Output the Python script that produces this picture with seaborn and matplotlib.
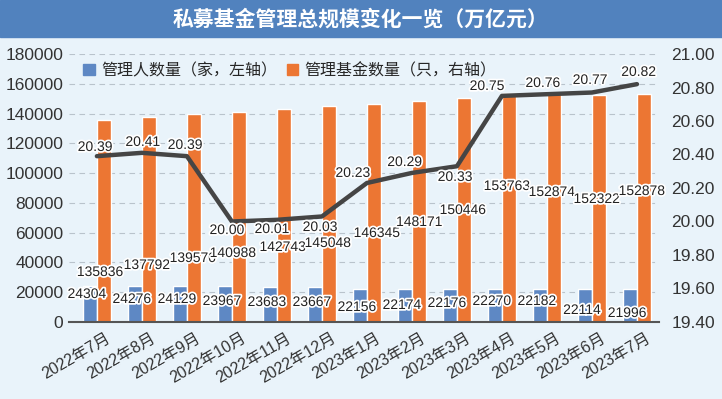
import matplotlib
matplotlib.use("Agg")
import matplotlib.pyplot as plt
import matplotlib.patheffects as pe
import matplotlib.transforms as mtransforms
from matplotlib.patches import Patch, Rectangle
import pandas as pd
import seaborn as sns

# data
months = ["2022年7月", "2022年8月", "2022年9月", "2022年10月", "2022年11月", "2022年12月",
          "2023年1月", "2023年2月", "2023年3月", "2023年4月", "2023年5月", "2023年6月", "2023年7月"]
managers = [24304, 24276, 24129, 23967, 23683, 23667, 22156, 22174, 22176, 22270, 22182, 22114, 21996]
funds = [135836, 137792, 139570, 140988, 142743, 145048, 146345, 148171, 150446, 153763, 152874, 152322, 152878]
scale = [20.39, 20.41, 20.39, 20.00, 20.01, 20.03, 20.23, 20.29, 20.33, 20.75, 20.76, 20.77, 20.82]

# label placement (text positions only)
mgr_lab_y = [18800, 15450, 15450, 14100, 13430, 13430, 10070, 11420, 12760, 14100, 14100, 8060, 6040]
fund_lab_dx = [0.07, 0.11, 0.13, 0.02, 0.13, 0.13, 0.22, 0.16, 0.13, 0.11, 0.11, 0.11, 0.11]
fund_lab_y = [33580, 38280, 42980, 46340, 50370, 53060, 59770, 67160, 75220, 91340, 87310, 82610, 87980]
line_lab_x = [-0.04, 1.02, 1.96, 2.89, 3.89, 4.96, 5.69, 6.84, 7.96, 8.67, 9.91, 10.96, 12.04]
line_lab_y = [20.445, 20.475, 20.457, 19.949, 19.955, 19.967, 20.290, 20.355, 20.266,
              20.809, 20.827, 20.845, 20.893]

blue = "#5e88c4"
orange = "#ec7633"
bg = "#e9f3fa"

sns.set_style("white")
plt.rcParams["font.family"] = ["Liberation Sans", "Noto Sans CJK SC", "DejaVu Sans"]

df = pd.DataFrame({
    "month": months * 2,
    "value": managers + funds,
    "series": ["管理人数量（家，左轴）"] * 13 + ["管理基金数量（只，右轴）"] * 13,
})

fig = plt.figure(figsize=(7.22, 3.99), dpi=100, facecolor=bg)
ax = fig.add_axes([69 / 722, 1 - 322 / 399, 590 / 722, 268 / 399])
ax.set_facecolor(bg)

sns.barplot(data=df, x="month", y="value", hue="series", order=months,
            palette=[blue, orange], width=0.62, gap=0, saturation=1,
            legend=False, ax=ax)

ax.set_ylim(0, 180000)
ax.set_yticks(range(0, 180001, 20000))
ax.set_xlim(-0.62, 12.49)
ax.set_xlabel("")
ax.set_ylabel("")
ax.grid(axis="y", color="#b9c3cc", linestyle=(0, (5, 4)), linewidth=0.8)
ax.set_axisbelow(True)
for s in ["top", "right", "left"]:
    ax.spines[s].set_visible(False)
ax.spines["bottom"].set_color("#555555")
ax.spines["bottom"].set_linewidth(1.5)
ax.tick_params(axis="y", length=0, pad=4, labelsize=12.5, labelcolor="#333333")
ax.tick_params(axis="x", length=0, pad=6)
ax.set_xticks(range(13))
ax.set_xticklabels(months, rotation=30, ha="right", va="top", rotation_mode="anchor",
                   fontsize=11.5, color="#333333")
shift = mtransforms.ScaledTranslation(9 / 100, 0, fig.dpi_scale_trans)
for lab in ax.get_xticklabels():
    lab.set_transform(lab.get_transform() + shift)

ax2 = ax.twinx()
sns.lineplot(x=list(range(13)), y=scale, ax=ax2, color="#454545", linewidth=3.2)
ax2.set_ylim(19.4, 21.0)
ax2.set_yticks([19.4 + 0.2 * i for i in range(9)])
ax2.set_yticklabels([f"{19.4 + 0.2 * i:.2f}" for i in range(9)])
ax2.set_xlim(-0.62, 12.49)
for s in ["top", "right", "left", "bottom"]:
    ax2.spines[s].set_visible(False)
ax2.tick_params(axis="y", length=0, pad=9, labelsize=12.5, labelcolor="#333333")

stroke = [pe.withStroke(linewidth=2.5, foreground="white")]
for i in range(13):
    ax.text(i - 0.22, mgr_lab_y[i], str(managers[i]), ha="center", va="center",
            fontsize=10, color="#222222", path_effects=stroke, zorder=5)
    ax.text(i + fund_lab_dx[i], fund_lab_y[i], str(funds[i]), ha="center", va="center",
            fontsize=10, color="#222222", path_effects=stroke, zorder=5)
    ax2.text(line_lab_x[i], line_lab_y[i], f"{scale[i]:.2f}", ha="center", va="center",
             fontsize=10, color="#222222", path_effects=stroke, zorder=5)

handles = [Patch(color=blue), Patch(color=orange)]
ax.legend(handles, ["管理人数量（家，左轴）", "管理基金数量（只，右轴）"], ncol=2,
          loc="upper left", bbox_to_anchor=(0.0, 1.02), frameon=False,
          handlelength=0.7, handleheight=0.7, handletextpad=0.4, columnspacing=0.6,
          prop={"size": 11.5})

# title band
fig.patches.append(Rectangle((0, 1 - 37 / 399), 1, 37 / 399, transform=fig.transFigure,
                             color="#5182be", zorder=0))
fig.text(0.5, 1 - 19 / 399, "私募基金管理总规模变化一览（万亿元）", ha="center", va="center",
         fontsize=15, fontweight="bold", color="white",
         family=["Noto Sans CJK SC", "DejaVu Sans"])

fig.savefig("out.png", dpi=100, facecolor=bg)
